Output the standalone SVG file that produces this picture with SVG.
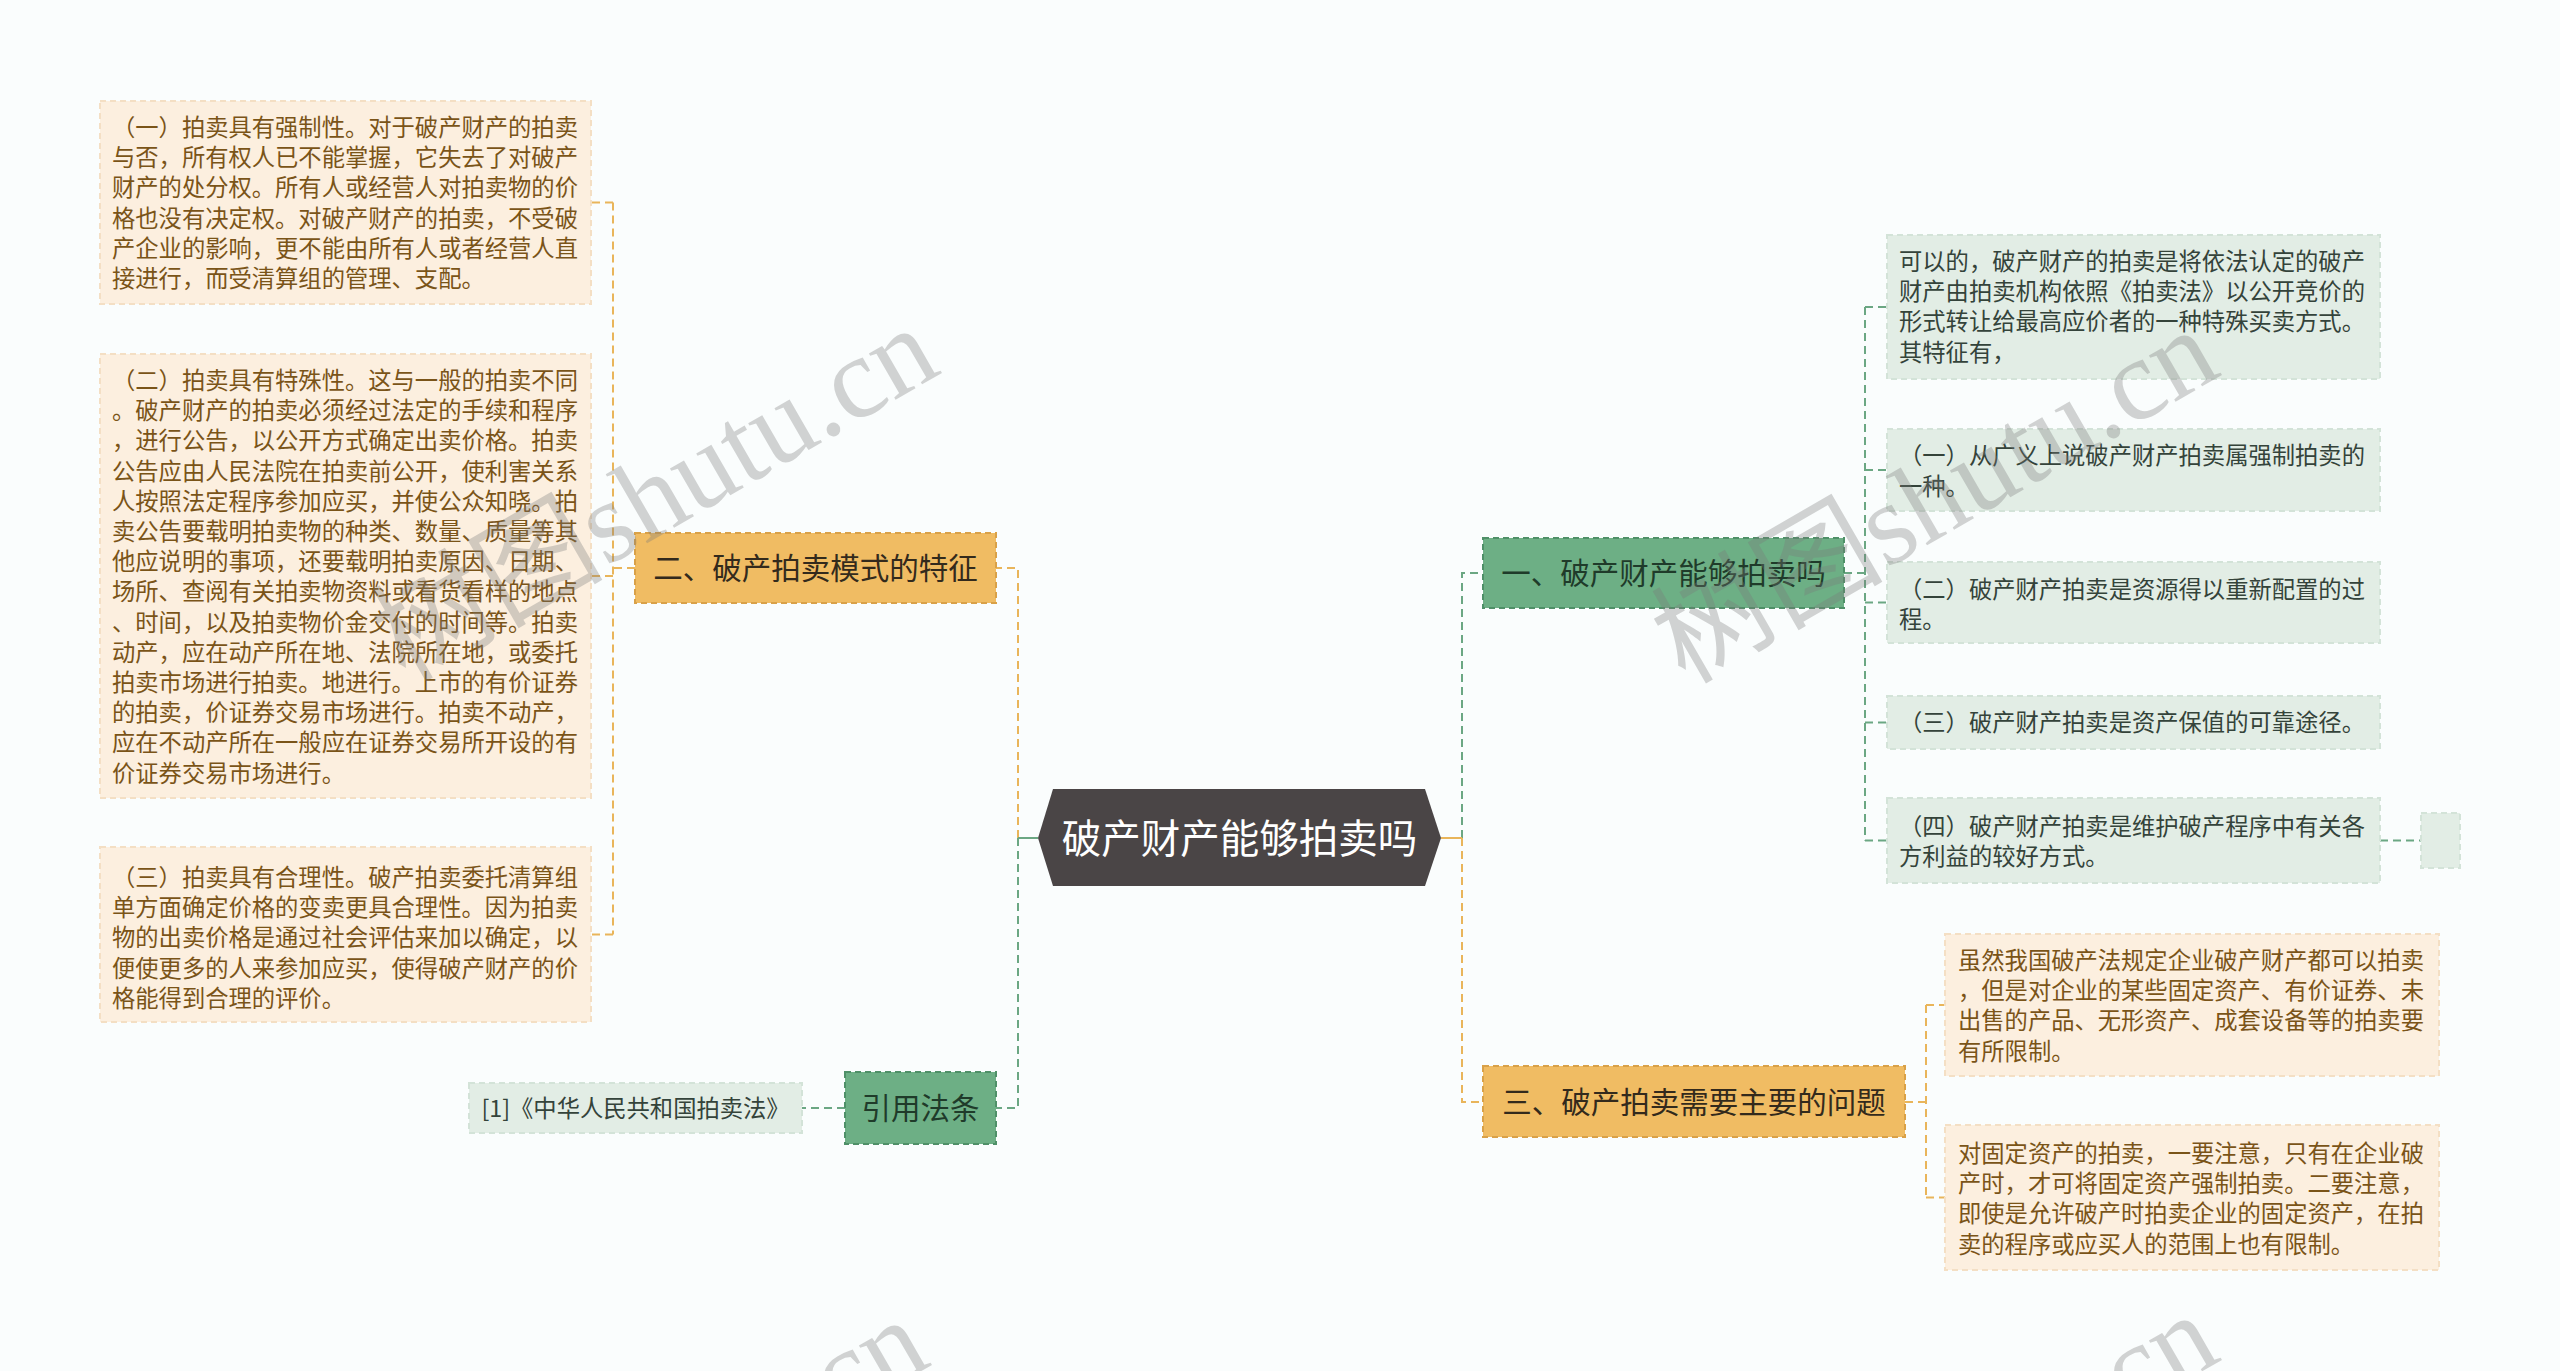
<svg xmlns="http://www.w3.org/2000/svg" width="2560" height="1371" viewBox="0 0 2560 1371">
<style>
.t{font-family:"Noto Sans CJK SC","Noto Sans",sans-serif;font-size:23.3px}
.to{fill:#7a5418}
.tg{fill:#34433a}
.ol{fill:#fcefdf;stroke:#f4dfc4;stroke-width:2;stroke-dasharray:6 4}
.gl{fill:#e2ede5;stroke:#d3e3d8;stroke-width:2;stroke-dasharray:6 4}
.on{fill:#f0bc63;stroke:#d9a148;stroke-width:2;stroke-dasharray:6 4}
.gn{fill:#6daf85;stroke:#4f9068;stroke-width:2;stroke-dasharray:6 4}
.nt{font-family:"Noto Sans CJK SC","Noto Sans",sans-serif;font-size:29.5px;text-anchor:middle}
.co{fill:none;stroke:#e9b55a;stroke-width:2;stroke-dasharray:8 5}
.cg{fill:none;stroke:#6ba783;stroke-width:2;stroke-dasharray:8 5}
.wm{font-family:"Liberation Serif","Noto Sans CJK SC",serif;font-size:116px;fill:#7a7a7a;opacity:0.32}
</style>
<rect width="2560" height="1371" fill="#fafdfd"/>
<g id="connectors">
<path class="co" d="M1018 838 V568 H996"/>
<path class="cg" d="M1018 838 V1108 H996"/>
<path d="M1038 838 H1018" stroke="#6ba783" stroke-width="2" fill="none"/>
<path class="cg" d="M1462 838 V573 H1483"/>
<path class="co" d="M1462 838 V1102 H1483"/>
<path d="M1441 838 H1462" stroke="#e9b55a" stroke-width="2" fill="none"/>
<path class="co" d="M635 568 H613 M613 202.5 V934.5 M613 202.5 H591 M613 576 H591 M613 934.5 H591"/>
<path class="cg" d="M1844 573 H1865 M1865 307 V840.5 M1865 307 H1887 M1865 470 H1887 M1865 602.5 H1887 M1865 722.5 H1887 M1865 840.5 H1887"/>
<path class="cg" d="M2380 840.5 H2421"/>
<path class="co" d="M1905 1102 H1926 M1926 1005 V1197.5 M1926 1005 H1945 M1926 1197.5 H1945"/>
<path class="cg" d="M845 1108 H802"/>
</g>
<g id="center">
<polygon points="1038,838 1053,789 1425,789 1441,838 1425,886 1053,886" fill="#4a4546"/>
<text x="1239.5" y="853" font-family="Noto Sans CJK SC, Noto Sans, sans-serif" font-size="39.5" fill="#ffffff" text-anchor="middle">破产财产能够拍卖吗</text>
</g>
<g id="node-er">
<rect class="on" x="635" y="533" width="361" height="70"/>
<text class="nt" x="815.5" y="579" fill="#332a1c">二、破产拍卖模式的特征</text>
</g>
<g id="node-yinyong">
<rect class="gn" x="845" y="1072" width="151" height="72"/>
<text class="nt" x="920.5" y="1119" fill="#1f3b2a">引用法条</text>
</g>
<g id="node-yi">
<rect class="gn" x="1483" y="538" width="361" height="70"/>
<text class="nt" x="1663.5" y="584" fill="#1f3b2a">一、破产财产能够拍卖吗</text>
</g>
<g id="node-san">
<rect class="on" x="1483" y="1066" width="422" height="71"/>
<text class="nt" x="1694" y="1113" fill="#332a1c">三、破产拍卖需要主要的问题</text>
</g>
<g id="leaf-l1">
<rect class="ol" x="100" y="101" width="491" height="203"/>
<text class="t to"><tspan x="112" y="136">（一）拍卖具有强制性。对于破产财产的拍卖</tspan><tspan x="112" y="166.2">与否，所有权人已不能掌握，它失去了对破产</tspan><tspan x="112" y="196.4">财产的处分权。所有人或经营人对拍卖物的价</tspan><tspan x="112" y="226.6">格也没有决定权。对破产财产的拍卖，不受破</tspan><tspan x="112" y="256.8">产企业的影响，更不能由所有人或者经营人直</tspan><tspan x="112" y="287">接进行，而受清算组的管理、支配。</tspan></text>
</g>
<g id="leaf-l2">
<rect class="ol" x="100" y="354" width="491" height="444"/>
<text class="t to"><tspan x="112" y="389">（二）拍卖具有特殊性。这与一般的拍卖不同</tspan><tspan x="112" y="419.2">。破产财产的拍卖必须经过法定的手续和程序</tspan><tspan x="112" y="449.4">，进行公告，以公开方式确定出卖价格。拍卖</tspan><tspan x="112" y="479.6">公告应由人民法院在拍卖前公开，使利害关系</tspan><tspan x="112" y="509.8">人按照法定程序参加应买，并使公众知晓。拍</tspan><tspan x="112" y="540">卖公告要载明拍卖物的种类、数量、质量等其</tspan><tspan x="112" y="570.2">他应说明的事项，还要载明拍卖原因、日期、</tspan><tspan x="112" y="600.4">场所、查阅有关拍卖物资料或看货看样的地点</tspan><tspan x="112" y="630.6">、时间，以及拍卖物价金交付的时间等。拍卖</tspan><tspan x="112" y="660.8">动产，应在动产所在地、法院所在地，或委托</tspan><tspan x="112" y="691">拍卖市场进行拍卖。地进行。上市的有价证券</tspan><tspan x="112" y="721.2">的拍卖，价证券交易市场进行。拍卖不动产，</tspan><tspan x="112" y="751.4">应在不动产所在一般应在证券交易所开设的有</tspan><tspan x="112" y="781.6">价证券交易市场进行。</tspan></text>
</g>
<g id="leaf-l3">
<rect class="ol" x="100" y="847" width="491" height="175"/>
<text class="t to"><tspan x="112" y="886">（三）拍卖具有合理性。破产拍卖委托清算组</tspan><tspan x="112" y="916.2">单方面确定价格的变卖更具合理性。因为拍卖</tspan><tspan x="112" y="946.4">物的出卖价格是通过社会评估来加以确定，以</tspan><tspan x="112" y="976.6">便使更多的人来参加应买，使得破产财产的价</tspan><tspan x="112" y="1006.8">格能得到合理的评价。</tspan></text>
</g>
<g id="leaf-cite">
<rect class="gl" x="469" y="1083" width="333" height="50"/>
<text class="t tg" x="635.5" y="1117" text-anchor="middle">[1]《中华人民共和国拍卖法》</text>
</g>
<g id="leaf-ra">
<rect class="gl" x="1887" y="235" width="493" height="144"/>
<text class="t tg"><tspan x="1899" y="270">可以的，破产财产的拍卖是将依法认定的破产</tspan><tspan x="1899" y="300.2">财产由拍卖机构依照《拍卖法》以公开竞价的</tspan><tspan x="1899" y="330.4">形式转让给最高应价者的一种特殊买卖方式。</tspan><tspan x="1899" y="360.6">其特征有，</tspan></text>
</g>
<g id="leaf-rb">
<rect class="gl" x="1887" y="429" width="493" height="82"/>
<text class="t tg"><tspan x="1899" y="464.3">（一）从广义上说破产财产拍卖属强制拍卖的</tspan><tspan x="1899" y="494.5">一种。</tspan></text>
</g>
<g id="leaf-rc">
<rect class="gl" x="1887" y="562" width="493" height="81"/>
<text class="t tg"><tspan x="1899" y="597.8">（二）破产财产拍卖是资源得以重新配置的过</tspan><tspan x="1899" y="628">程。</tspan></text>
</g>
<g id="leaf-rd">
<rect class="gl" x="1887" y="696" width="493" height="53"/>
<text class="t tg" x="1899" y="731.3">（三）破产财产拍卖是资产保值的可靠途径。</text>
</g>
<g id="leaf-re">
<rect class="gl" x="1887" y="798" width="493" height="85"/>
<text class="t tg"><tspan x="1899" y="835">（四）破产财产拍卖是维护破产程序中有关各</tspan><tspan x="1899" y="865.2">方利益的较好方式。</tspan></text>
</g>
<g id="leaf-rsmall">
<rect class="gl" x="2421" y="813" width="39" height="55"/>
</g>
<g id="leaf-rf">
<rect class="ol" x="1945" y="934" width="494" height="142"/>
<text class="t to"><tspan x="1958" y="969">虽然我国破产法规定企业破产财产都可以拍卖</tspan><tspan x="1958" y="999.2">，但是对企业的某些固定资产、有价证券、未</tspan><tspan x="1958" y="1029.4">出售的产品、无形资产、成套设备等的拍卖要</tspan><tspan x="1958" y="1059.6">有所限制。</tspan></text>
</g>
<g id="leaf-rg">
<rect class="ol" x="1945" y="1125" width="494" height="145"/>
<text class="t to"><tspan x="1958" y="1162">对固定资产的拍卖，一要注意，只有在企业破</tspan><tspan x="1958" y="1192.2">产时，才可将固定资产强制拍卖。二要注意，</tspan><tspan x="1958" y="1222.4">即使是允许破产时拍卖企业的固定资产，在拍</tspan><tspan x="1958" y="1252.6">卖的程序或应买人的范围上也有限制。</tspan></text>
</g>
<g id="watermarks">
<text class="wm" transform="translate(405 683) rotate(-30)">树图shutu.cn</text>
<text class="wm" transform="translate(1685 685) rotate(-30)">树图shutu.cn</text>
<text class="wm" transform="translate(395 1675) rotate(-30)">树图shutu.cn</text>
<text class="wm" transform="translate(1685 1670) rotate(-30)">树图shutu.cn</text>
</g>
</svg>
